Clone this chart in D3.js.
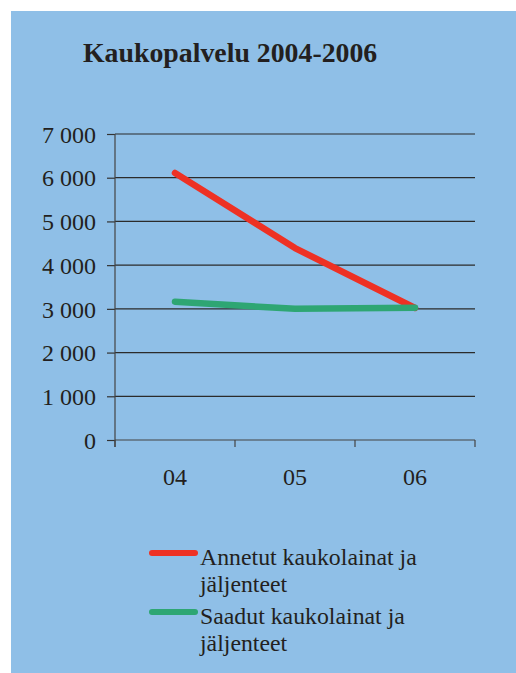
<!DOCTYPE html>
<html><head><meta charset="utf-8">
<script src="https://cdn.jsdelivr.net/npm/d3@7"></script>
<style>
html,body{margin:0;padding:0;background:#fff;}
svg{display:block;}
text{font-family:"Liberation Serif","Times New Roman",serif;fill:#231f20;}
</style></head>
<body>
<script>
const title = "Kaukopalvelu 2004-2006";
const categories = ["04","05","06"];
const seriesNames = [["Annetut kaukolainat ja","jäljenteet"],["Saadut kaukolainat ja","jäljenteet"]];
const annetut = [6110, 4390, 3020];
const saadut = [3165, 3000, 3025];
const colors = ["#ee3124","#2ea673"];
const yTicks = [0,1000,2000,3000,4000,5000,6000,7000];

const W=516,H=673;
const svg=d3.select("body").append("svg").attr("width",W).attr("height",H);
svg.append("rect").attr("x",11).attr("y",11).attr("width",W-11).attr("height",H-11).attr("fill","#8fbfe7");

svg.append("text").attr("x",83).attr("y",62).attr("font-size",27.8).attr("font-weight","bold").text(title);

const x=d3.scaleBand().domain(categories).range([115,475]);
const y=d3.scaleLinear().domain([0,7000]).range([440,134]);

const fmt=v=>d3.format(",")(v).replace(/,/g," ");

// gridlines
svg.append("g").selectAll("line").data(yTicks.filter(d=>d>0)).join("line")
  .attr("x1",115).attr("x2",475).attr("y1",d=>y(d)).attr("y2",d=>y(d))
  .attr("stroke","#2b2b2b").attr("stroke-width",1.2);

// y axis
const ya=svg.append("g").attr("transform","translate(115,0)")
  .call(d3.axisLeft(y).tickValues(yTicks).tickFormat(fmt).tickSize(8).tickPadding(11));
ya.attr("font-family",null);
ya.select(".domain").remove();
ya.selectAll("line").attr("stroke","#333").attr("stroke-width",1.2);
ya.selectAll("text").attr("font-size",24).attr("fill","#231f20").attr("dy","0.34em");
svg.append("line").attr("x1",115).attr("x2",115).attr("y1",134).attr("y2",447).attr("stroke","#444").attr("stroke-width",1.2);

// x axis
svg.append("line").attr("x1",115).attr("x2",475).attr("y1",440).attr("y2",440).attr("stroke","#444").attr("stroke-width",1.2);
const edges=[...categories.map(c=>x(c)),475];
svg.append("g").selectAll("line").data(edges).join("line")
  .attr("x1",d=>d).attr("x2",d=>d).attr("y1",440).attr("y2",447).attr("stroke","#444").attr("stroke-width",1.2);
svg.append("g").selectAll("text").data(categories).join("text")
  .attr("x",d=>x(d)+x.bandwidth()/2).attr("y",485).attr("text-anchor","middle").attr("font-size",24).text(d=>d);

const line=d3.line().x((d,i)=>x(categories[i])+x.bandwidth()/2).y(d=>y(d));
[annetut,saadut].forEach((s,i)=>{
  svg.append("path").attr("d",line(s)).attr("fill","none").attr("stroke",colors[i])
    .attr("stroke-width",6.5).attr("stroke-linecap","round").attr("stroke-linejoin","round");
});

// legend
const leg=[{y:553},{y:612}];
seriesNames.forEach((lines,i)=>{
  const ly=leg[i].y;
  svg.append("line").attr("x1",152).attr("x2",195).attr("y1",ly).attr("y2",ly)
    .attr("stroke",colors[i]).attr("stroke-width",6).attr("stroke-linecap","round");
  const t=svg.append("text").attr("x",200).attr("y",ly+12).attr("font-size",23.8);
  lines.forEach((l,j)=>t.append("tspan").attr("x",200).attr("dy",j?27:0).text(l));
});
</script>
</body></html>
